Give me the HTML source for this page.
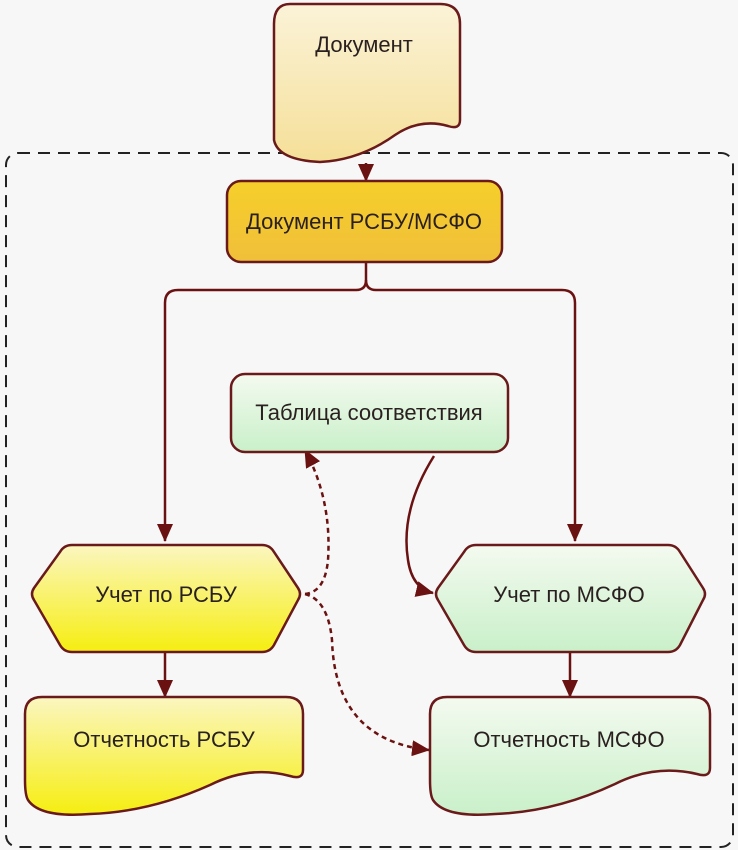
<!DOCTYPE html>
<html><head><meta charset="utf-8"><style>
html,body{margin:0;padding:0;background:#f8f7f7;}
svg{display:block;}
text{font-family:"Liberation Sans",sans-serif;font-size:22px;fill:#2a2020;text-anchor:middle;}
</style></head><body>
<svg width="738" height="850" viewBox="0 0 738 850" xmlns="http://www.w3.org/2000/svg">
<defs>
<linearGradient id="gDoc" x1="0" y1="0" x2="0" y2="1"><stop offset="0" stop-color="#fbf3d8"/><stop offset="1" stop-color="#f5df98"/></linearGradient>
<linearGradient id="gGold" x1="0" y1="0" x2="0" y2="1"><stop offset="0" stop-color="#f6cf2a"/><stop offset="1" stop-color="#f0bf3a"/></linearGradient>
<linearGradient id="gY" x1="0" y1="0" x2="0" y2="1"><stop offset="0" stop-color="#fbf6c0"/><stop offset="1" stop-color="#f6ee10"/></linearGradient>
<linearGradient id="gG" x1="0" y1="0" x2="0" y2="1"><stop offset="0" stop-color="#f4faf0"/><stop offset="1" stop-color="#c9f0c9"/></linearGradient>
<marker id="arb" markerWidth="18" markerHeight="16" refX="17" refY="8" orient="auto" markerUnits="userSpaceOnUse"><path d="M0,0 L18,8 L0,16 Z" fill="#6a1212"/></marker>
</defs>
<rect x="6" y="153" width="727" height="694" rx="12" fill="none" stroke="#222" stroke-width="2" stroke-dasharray="12,8"/>
<g stroke="#6a1212" stroke-width="2.5" fill="none">
<path d="M366,163 V181" marker-end="url(#arb)"/>
<path d="M366,262 V280 Q366,290 356,290 H178 Q165,290 165,303 V541" marker-end="url(#arb)"/>
<path d="M366,280 Q366,290 376,290 H562 Q575,290 575,303 V541" marker-end="url(#arb)"/>
<path d="M165,652 V697" marker-end="url(#arb)"/>
<path d="M570,652 V697" marker-end="url(#arb)"/>
<path d="M434,456 Q400,510 408,560 Q412,588 433,593" marker-end="url(#arb)"/>
</g>
<g stroke="#6a1212" stroke-width="2.5" fill="none" stroke-dasharray="5,4">
<path d="M305,594 Q325,592 328,560 Q332,500 305,450" marker-end="url(#arb)"/>
<path d="M305,594 Q328,600 332,640 Q335,740 429,750" marker-end="url(#arb)"/>
</g>
<g stroke="#6a1a1a" stroke-width="2.5">
<path d="M290,4 H440 Q460,4 460,24 V120 Q460,130 448,126 Q420,118 395,135 Q360,160 320,162 Q278,160 274,140 V24 Q274,4 290,4 Z" fill="url(#gDoc)"/>
<rect x="227" y="181" width="275" height="81" rx="14" fill="url(#gGold)"/>
<rect x="231" y="374" width="277" height="78" rx="14" fill="url(#gG)"/>
<path d="M72,545 H262 Q270,545 274,552 L298,588 Q302,594 298,600 L274,645 Q270,652 262,652 H72 Q64,652 60,645 L34,600 Q30,594 34,588 L60,552 Q64,545 72,545 Z" fill="url(#gY)"/>
<path d="M476,545 H668 Q676,545 680,552 L703,588 Q707,594 703,600 L680,645 Q676,652 668,652 H476 Q468,652 464,645 L438,600 Q434,594 438,588 L464,552 Q468,545 476,545 Z" fill="url(#gG)"/>
<path d="M42,697 H286 Q303,697 303,714 V770 Q303,780 290,776 Q250,765 210,785 Q150,812 90,814 Q40,818 28,800 Q25,795 25,780 V714 Q25,697 42,697 Z" fill="url(#gY)"/>
<path d="M447,697 H693 Q710,697 710,714 V768 Q710,778 697,774 Q655,764 615,784 Q555,812 495,814 Q445,818 433,800 Q430,795 430,780 V714 Q430,697 447,697 Z" fill="url(#gG)"/>
</g>
<text x="364" y="52">Документ</text>
<text x="364" y="229">Документ РСБУ/МСФО</text>
<text x="369" y="420">Таблица соответствия</text>
<text x="166" y="602">Учет по РСБУ</text>
<text x="569" y="602">Учет по МСФО</text>
<text x="164" y="747">Отчетность РСБУ</text>
<text x="569" y="747">Отчетность МСФО</text>
</svg>
</body></html>
